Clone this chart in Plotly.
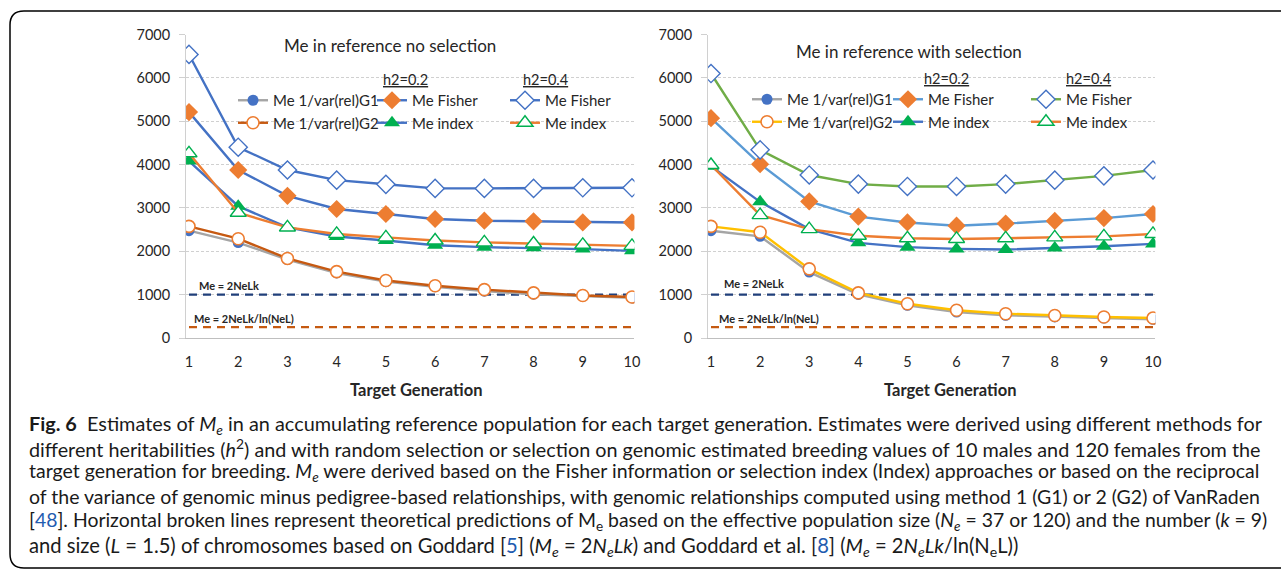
import plotly.graph_objects as go

W, H = 1281, 573

gens = [1, 2, 3, 4, 5, 6, 7, 8, 9, 10]
x_ticks = [1, 2, 3, 4, 5, 6, 7, 8, 9, 10]
y_ticks = [0, 1000, 2000, 3000, 4000, 5000, 6000, 7000]

# Left panel: reference with no selection
ns_g1 = [2475, 2200, 1810, 1500, 1300, 1180, 1080, 1010, 965, 925]
ns_g2 = [2575, 2290, 1835, 1530, 1325, 1205, 1115, 1040, 980, 945]
ns_fisher02 = [5210, 3875, 3280, 2975, 2860, 2745, 2705, 2690, 2665, 2665]
ns_index02 = [4080, 3040, 2550, 2340, 2250, 2140, 2095, 2080, 2050, 2010]
ns_fisher04 = [6540, 4400, 3875, 3640, 3545, 3450, 3450, 3450, 3465, 3465]
ns_index04 = [4260, 2890, 2550, 2400, 2320, 2250, 2205, 2180, 2150, 2125]

# Right panel: reference with selection
ws_g1 = [2475, 2345, 1520, 1005, 755, 600, 525, 485, 460, 430]
ws_g2 = [2575, 2440, 1595, 1040, 790, 640, 560, 520, 485, 460]
ws_fisher02 = [5070, 4010, 3150, 2800, 2665, 2590, 2640, 2700, 2765, 2860]
ws_index02 = [3960, 3140, 2510, 2195, 2095, 2055, 2040, 2075, 2115, 2170]
ws_fisher04 = [6100, 4340, 3760, 3550, 3495, 3495, 3550, 3640, 3740, 3875]
ws_index04 = [3990, 2835, 2510, 2360, 2300, 2285, 2300, 2320, 2345, 2400]

# Theoretical predictions (Ne=37, L=1.5, k=9)
me_2nelk = [999] * 10
me_2nelk_ln = [249] * 10

legend_names = ["Me 1/var(rel)G1", "Me 1/var(rel)G2", "Me Fisher", "Me index", "Me Fisher", "Me index"]


def px(x):
    return x / W


def py(y):
    return 1 - y / H


FONT = "Lato"
TXT = "#262626"

fig = go.Figure()


def add_panel(xa, ya, series, lines, legs):
    # dashed theoretical lines
    fig.add_trace(go.Scatter(x=gens, y=me_2nelk, mode="lines", xaxis=xa, yaxis=ya,
                             line=dict(color="#203F7A", width=2.2, dash="8px,6px"),
                             showlegend=False, hoverinfo="skip"))
    fig.add_trace(go.Scatter(x=gens, y=me_2nelk_ln, mode="lines", xaxis=xa, yaxis=ya,
                             line=dict(color="#C55A11", width=2.2, dash="8px,6px"),
                             showlegend=False, hoverinfo="skip"))
    markers = [
        dict(symbol="circle", size=11, color="#4472C4", line=dict(width=0)),
        dict(symbol="circle", size=12, color="white", line=dict(width=1.6, color="#ED7D31")),
        dict(symbol="diamond", size=14, color="#ED7D31", line=dict(width=0)),
        dict(symbol="triangle-up", size=14, color="#00B050", line=dict(width=0)),
        dict(symbol="diamond", size=14, color="white", line=dict(width=1.4, color="#4472C4")),
        dict(symbol="triangle-up", size=14, color="white", line=dict(width=1.4, color="#00B050")),
    ]
    for vals, lc, mk, name, leg in zip(series, lines, markers, legend_names, legs):
        fig.add_trace(go.Scatter(x=gens, y=vals, mode="lines+markers", name=name,
                                 xaxis=xa, yaxis=ya, legend=leg,
                                 line=dict(color=lc, width=2.4), marker=mk))


add_panel("x", "y",
          [ns_g1, ns_g2, ns_fisher02, ns_index02, ns_fisher04, ns_index04],
          ["#A5A5A5", "#C65911", "#4472C4", "#4472C4", "#4472C4", "#ED7D31"],
          ["legend", "legend", "legend2", "legend2", "legend3", "legend3"])
add_panel("x2", "y2",
          [ws_g1, ws_g2, ws_fisher02, ws_index02, ws_fisher04, ws_index04],
          ["#A5A5A5", "#FFC000", "#5B9BD5", "#4472C4", "#70AD47", "#ED7D31"],
          ["legend4", "legend4", "legend5", "legend5", "legend6", "legend6"])

# pixel layout of plot areas
yd = [py(338), py(34.5)]
xr = [0.94, 10.05]
l1, r1 = 189, 632
l2, r2 = 711, 1153
u1 = (r1 - l1) / 9
u2 = (r2 - l2) / 9
xd1 = [px(l1 - (1 - xr[0]) * u1), px(r1 + (xr[1] - 10) * u1)]
xd2 = [px(l2 - (1 - xr[0]) * u2), px(r2 + (xr[1] - 10) * u2)]

xcommon = dict(range=xr, tickvals=x_ticks, showgrid=False, zeroline=False, showline=True,
               linecolor="#BFBFBF", linewidth=1, ticks="", ticklabelstandoff=11,
               tickfont=dict(family=FONT, size=14.5, color=TXT))
ycommon = dict(range=[0, 7000], tickvals=y_ticks, showgrid=True, gridcolor="#D0D0D0",
               griddash="3px,2px", gridwidth=1, zeroline=False, showline=True,
               linecolor="#D0D0D0", linewidth=1, ticks="outside", ticklen=6,
               tickcolor="#D0D0D0", ticklabelstandoff=6,
               tickfont=dict(family=FONT, size=14.5, color=TXT))

legend_style = dict(orientation="v", xanchor="left", yanchor="top", bgcolor="rgba(0,0,0,0)",
                    font=dict(family=FONT, size=15, color=TXT), itemwidth=30,
                    tracegroupgap=0, traceorder="normal")

fig.update_layout(
    width=W, height=H, margin=dict(l=0, r=0, t=0, b=0, pad=0, autoexpand=False),
    paper_bgcolor="white", plot_bgcolor="white",
    xaxis=dict(domain=xd1, anchor="y", **xcommon),
    yaxis=dict(domain=yd, anchor="x", **ycommon),
    xaxis2=dict(domain=xd2, anchor="y2", **xcommon),
    yaxis2=dict(domain=yd, anchor="x2", **ycommon),
    legend=dict(x=px(233), y=py(84), **legend_style),
    legend2=dict(x=px(372), y=py(84), **legend_style),
    legend3=dict(x=px(505), y=py(84), **legend_style),
    legend4=dict(x=px(747), y=py(83), **legend_style),
    legend5=dict(x=px(888), y=py(83), **legend_style),
    legend6=dict(x=px(1026), y=py(83), **legend_style),
)

ann = []


def txt(x, y, text, size, xanchor="center", bold=False, family=FONT, color=TXT):
    ann.append(dict(x=px(x), y=py(y), xref="paper", yref="paper", text=("<b>%s</b>" % text) if bold else text,
                    showarrow=False, xanchor=xanchor, yanchor="middle",
                    font=dict(family=family, size=size, color=color)))


txt(390, 45, "Me in reference no selection", 17)
txt(909, 51, "Me in reference with selection", 17)
txt(405, 79, "<u>h2=0.2</u>", 14.5)
txt(545, 79, "<u>h2=0.4</u>", 14.5)
txt(946, 78, "<u>h2=0.2</u>", 14.5)
txt(1088, 78, "<u>h2=0.4</u>", 14.5)
txt(197, 285, "Me = 2NeLk", 11, xanchor="left", bold=True)
txt(192, 318, "Me = 2NeLk/ln(NeL)", 11, xanchor="left", bold=True)
txt(722, 284, "Me = 2NeLk", 11, xanchor="left", bold=True)
txt(717, 318, "Me = 2NeLk/ln(NeL)", 11, xanchor="left", bold=True)
txt(416, 390, "Target Generation", 16.5, bold=True)
txt(950, 390, "Target Generation", 16.5, bold=True)

BL = "#1F5CB0"
Me = "<i>M<sub>e</sub></i>"
cap = [
    "<b>Fig. 6</b>  Estimates of " + Me + " in an accumulating reference population for each target generation. Estimates were derived using different methods for",
    "different heritabilities (<i>h</i><sup>2</sup>) and with random selection or selection on genomic estimated breeding values of 10 males and 120 females from the",
    "target generation for breeding. " + Me + " were derived based on the Fisher information or selection index (Index) approaches or based on the reciprocal",
    "of the variance of genomic minus pedigree-based relationships, with genomic relationships computed using method 1 (G1) or 2 (G2) of VanRaden",
    "[<span style='color:%s'>48</span>]. Horizontal broken lines represent theoretical predictions of M<sub>e</sub> based on the effective population size (<i>N<sub>e</sub></i> = 37 or 120) and the number (<i>k</i> = 9)" % BL,
    "and size (<i>L</i> = 1.5) of chromosomes based on Goddard [<span style='color:%s'>5</span>] (" % BL + Me + " = 2<i>N<sub>e</sub>Lk</i>) and Goddard et al. [<span style='color:%s'>8</span>] (" % BL + Me + " = 2<i>N<sub>e</sub>Lk</i>/ln(N<sub>e</sub>L))",
]
cap_y = [424, 448, 472, 496, 521, 546]
cap_size = [19.87, 19.8, 19.5, 19.5, 19.4, 20.2]
for t, y, s in zip(cap, cap_y, cap_size):
    txt(27, y, t, s, xanchor="left", color="#1A1A1A")

fig.update_layout(annotations=ann)

# rounded frame around the figure
x0, y0, y1, rr = 10, 11, 568, 14
path = (f"M {px(1290)},{py(y0)} L {px(x0 + rr)},{py(y0)} Q {px(x0)},{py(y0)} {px(x0)},{py(y0 + rr)} "
        f"L {px(x0)},{py(y1 - rr)} Q {px(x0)},{py(y1)} {px(x0 + rr)},{py(y1)} L {px(1290)},{py(y1)}")
fig.add_shape(type="path", path=path, xref="paper", yref="paper", line=dict(color="black", width=1.5))

fig.write_html("out.html")
